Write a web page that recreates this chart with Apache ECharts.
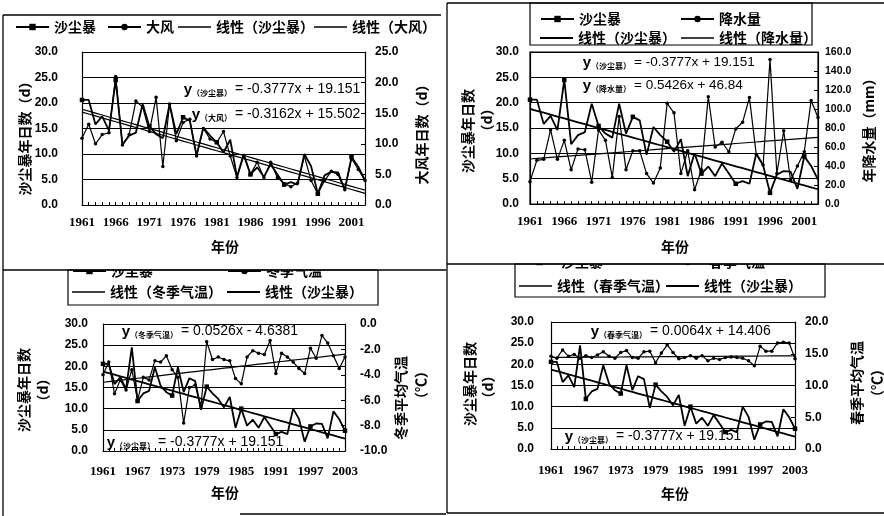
<!DOCTYPE html>
<html><head><meta charset="utf-8">
<script src="https://cdn.jsdelivr.net/npm/echarts@6/dist/echarts.min.js"></script>
<style>html,body{margin:0;padding:0;background:#fff}#c{width:884px;height:516px}</style>
</head><body><div id="c"></div>
<script>
const years = ['1961','1962','1963','1964','1965','1966','1967','1968','1969','1970','1971','1972','1973','1974','1975','1976','1977','1978','1979','1980','1981','1982','1983','1984','1985','1986','1987','1988','1989','1990','1991','1992','1993','1994','1995','1996','1997','1998','1999','2000','2001','2002','2003'];
// 沙尘暴年日数 (d)
const dustStorm = [20.6,20.6,15.8,17.4,14.6,24.5,11.8,13.6,14.2,19.8,15.4,13.9,13.1,19.8,13.9,17.2,16.5,9.7,15.2,13.6,12.3,10.3,12.8,5.5,10.0,6.0,7.4,5.5,8.0,6.0,4.0,4.5,4.0,10.0,7.6,2.2,5.8,6.5,6.4,3.0,9.4,7.5,4.8];
// 大风年日数 (d)
const strongWind = [10.9,13.2,10.0,11.5,11.8,21.0,9.8,11.5,17.0,16.0,12.0,17.6,6.3,16.5,10.5,13.5,14.0,8.0,12.5,10.8,10.2,12.0,8.0,4.5,8.0,5.0,7.0,4.5,7.0,4.5,3.5,3.0,3.6,8.0,4.0,1.8,4.0,5.5,5.0,2.5,7.6,5.8,4.0];
// 年降水量 (mm)
const precipitation = [23.5,46,47,78,47,67,36,58,57,23,78,67,28,92,36,56,56,32,22,38,106,96,32,56,15,36,113,60,65,55,79,86,112,52,41,152,32,77,25,40,55,109,91];
// 冬季平均气温 (℃)
const winterTemp = [-4.0,-3.0,-5.5,-4.4,-5.2,-3.6,-6.0,-4.2,-4.4,-2.9,-3.0,-2.5,-3.6,-4.2,-7.8,-5.0,-4.8,-6.5,-1.4,-2.8,-2.6,-2.8,-2.9,-4.3,-4.7,-2.6,-2.1,-2.3,-2.4,-1.3,-3.9,-2.3,-2.6,-3.0,-3.5,-3.9,-1.9,-2.7,-0.9,-1.5,-2.5,-3.5,-2.6];
// 春季平均气温 (℃)
const springTemp = [14.6,14.3,15.6,14.6,14.9,14.3,14.7,14.4,14.8,15.3,14.6,14.3,15.2,15.5,14.4,14.3,15.3,15.4,13.6,15.1,16.4,15.2,14.2,14.4,14.7,14.3,14.7,13.9,14.3,14.1,14.4,14.5,14.4,14.3,13.9,13.1,16.2,15.4,15.4,16.7,16.8,16.7,14.2];
// linear trend coefficients [slope, intercept], x = 1..43
const coefDust = [-0.3777, 19.151];
const coefWind = [-0.3162, 15.502];
const coefPrecip = [0.5426, 46.84];
const coefWinter = [0.0526, -4.6381];
const coefSpring = [0.0064, 14.406];

const CJK = '"Noto Sans CJK SC", sans-serif';
const NUM = '"Liberation Sans", Arial, sans-serif';
const SERIF = '"Liberation Serif", "Times New Roman", serif';

function trend(c) { return years.map((_, i) => +(c[0] * (i + 1) + c[1]).toFixed(4)); }

function xAx(gi, interval, margin) {
  return {type:'category', gridIndex:gi, data:years, boundaryGap:false,
    axisLine:{show:true, lineStyle:{color:'#000', width:1.2}},
    axisTick:{show:true, inside:true, length:3, interval:0, lineStyle:{color:'#000'}},
    axisLabel:{interval:interval, margin:margin, color:'#000', fontFamily:SERIF, fontWeight:'bold', fontSize:13},
    splitLine:{show:false}};
}
function yAx(gi, min, max, interval, pos, margin, fs, split) {
  return {type:'value', gridIndex:gi, min:min, max:max, interval:interval, position:pos,
    axisLine:{show:true, lineStyle:{color:'#000', width:1.2}},
    axisTick:{show:true, inside:true, length:4, lineStyle:{color:'#000'}},
    axisLabel:{margin:margin, color:'#000', fontFamily:NUM, fontWeight:'bold', fontSize:fs, formatter:v => v.toFixed(1)},
    splitLine:{show:split, lineStyle:{color:'#000', width:1}}};
}
function ser(name, xi, yi, data, kind) {
  const s = {name:name, type:'line', xAxisIndex:xi, yAxisIndex:yi, data:data, silent:true, z:3};
  if (kind === 'dust') {
    Object.assign(s, {symbol:'rect', symbolSize:4.5, lineStyle:{color:'#000', width:1.8}, itemStyle:{color:'#000'}});
  } else if (kind === 'other') {
    Object.assign(s, {symbol:'circle', symbolSize:3.5, lineStyle:{color:'#000', width:1.2}, itemStyle:{color:'#000'}});
  } else {
    Object.assign(s, {symbol:'none', showSymbol:false, lineStyle:{color:'#000', width:kind === 'trendBold' ? 1.8 : 1.2}, itemStyle:{color:'#000'}});
  }
  return s;
}
// kind: 0 = line with marker, 1 = thin trend line, 2 = bold trend line
function lg(name, left, cy, kind) {
  const item = kind ? {name:name, icon:'rect'} : {name:name};
  return {data:[item], left:left, top:cy - 8, itemWidth:33, itemHeight:kind === 2 ? 2.2 : (kind === 1 ? 1.3 : 8),
    itemGap:0, padding:0, selectedMode:false,
    textStyle:{fontFamily:CJK, fontWeight:'bold', fontSize:14, color:'#000'}};
}
function line(x1, y1, x2, y2, w) {
  return {type:'line', z:100, shape:{x1:x1, y1:y1, x2:x2, y2:y2}, style:{stroke:'#000', lineWidth:w || 1.3}};
}
function rectBox(x, y, w, h) {
  return {type:'rect', z:100, shape:{x:x, y:y, width:w, height:h}, style:{fill:null, stroke:'#000', lineWidth:1.2}};
}
function vtext(t, x, y) {
  return {type:'text', z:100, x:x, y:y, rotation:Math.PI / 2,
    style:{text:t, fontFamily:CJK, fontWeight:'bold', fontSize:14, fill:'#000', align:'center', verticalAlign:'middle'}};
}
function htext(t, x, y) {
  return {type:'text', z:100, x:x, y:y,
    style:{text:t, fontFamily:CJK, fontWeight:'bold', fontSize:14, fill:'#000', align:'center', verticalAlign:'middle'}};
}
function eq(sub, rest, xEq, y, fs) {
  return [
    {type:'text', z:100, x:xEq - 3, y:y,
      style:{text:'{y|y}{s|（' + sub + '）}', align:'right', verticalAlign:'middle', fill:'#000',
        rich:{y:{fontFamily:NUM, fontWeight:'bold', fontSize:15, lineHeight:16, verticalAlign:'bottom'},
              s:{fontFamily:CJK, fontWeight:'bold', fontSize:8, lineHeight:16, verticalAlign:'bottom'}}}},
    {type:'text', z:100, x:xEq, y:y,
      style:{text:rest, fontFamily:NUM, fontSize:fs || 14, fill:'#000', align:'left', verticalAlign:'middle'}}
  ];
}

const chart = echarts.init(document.getElementById('c'), null, {renderer:'canvas'});
const option = {
  animation:false,
  backgroundColor:'#fff',
  grid:[
    {left:82, top:52, width:283, height:153, outerBoundsMode:'none'},
    {left:530, top:52, width:288, height:152, show:true, borderColor:'#000', borderWidth:1.2, outerBoundsMode:'none'},
    {left:103, top:324, width:242, height:127, outerBoundsMode:'none'},
    {left:551, top:322, width:244, height:127, outerBoundsMode:'none'}
  ],
  xAxis:[xAx(0, 4, 11), xAx(1, 4, 11), xAx(2, 5, 14), xAx(3, 5, 15)],
  yAxis:[
    yAx(0, 0, 30, 5, 'left', 24, 12, true), yAx(0, 0, 25, 5, 'right', 10, 12, false),
    yAx(1, 0, 30, 5, 'left', 11, 12, true), yAx(1, 0, 160, 20, 'right', 7, 10.5, false),
    yAx(2, 0, 30, 5, 'left', 15, 12, true), yAx(2, -10, 0, 2, 'right', 15, 12, false),
    yAx(3, 0, 30, 5, 'left', 17, 12, true), yAx(3, 0, 20, 5, 'right', 10, 12, false)
  ],
  legend:[
    lg('沙尘暴', 15, 28, 0), lg('大风', 107, 28, 0), lg('线性（沙尘暴）', 178, 28, 1), lg('线性（大风）', 314, 28, 1),
    lg('沙尘暴', 540, 20, 0), lg('降水量', 680, 20, 0), lg('线性（沙尘暴）', 540, 39, 2), lg('线性（降水量）', 681, 39, 1),
    lg('沙尘暴', 72, 272, 0), lg('冬季气温', 227, 272, 0), lg('线性（冬季气温）', 72, 293, 1), lg('线性（沙尘暴）', 227, 293, 2),
    lg('沙尘暴', 522, 263, 0), lg('春季气温', 670, 263, 0), lg('线性（春季气温）', 519, 287, 1), lg('线性（沙尘暴）', 666, 287, 2)
  ],
  series:[
    ser('沙尘暴', 0, 0, dustStorm, 'dust'),
    ser('大风', 0, 1, strongWind, 'other'),
    ser('线性（沙尘暴）', 0, 0, trend(coefDust), 'trend'),
    ser('线性（大风）', 0, 1, trend(coefWind), 'trend'),

    ser('沙尘暴', 1, 2, dustStorm, 'dust'),
    ser('降水量', 1, 3, precipitation, 'other'),
    ser('线性（沙尘暴）', 1, 2, trend(coefDust), 'trendBold'),
    ser('线性（降水量）', 1, 3, trend(coefPrecip), 'trend'),

    ser('沙尘暴', 2, 4, dustStorm, 'dust'),
    ser('冬季气温', 2, 5, winterTemp, 'other'),
    ser('线性（冬季气温）', 2, 5, trend(coefWinter), 'trend'),
    ser('线性（沙尘暴）', 2, 4, trend(coefDust), 'trendBold'),

    ser('沙尘暴', 3, 6, dustStorm, 'dust'),
    ser('春季气温', 3, 7, springTemp, 'other'),
    ser('线性（春季气温）', 3, 7, trend(coefSpring), 'trend'),
    ser('线性（沙尘暴）', 3, 6, trend(coefDust), 'trendBold')
  ],
  graphic:[
    // clip the cut-off legend rows of the lower panels
    {type:'rect', z:99, shape:{x:0, y:255, width:446, height:15}, style:{fill:'#fff'}},
    {type:'rect', z:99, shape:{x:448, y:254, width:436, height:10}, style:{fill:'#fff'}},
    // panel frames
    line(3, 15, 3, 516), line(3, 15, 441, 15),
    line(447, 3, 447, 513), line(447, 3, 884, 3),
    line(3, 270, 446, 270), line(447, 264, 884, 264), line(447, 513, 884, 513), line(240, 514, 446, 514),
    // legend boxes
    rectBox(530, 3, 282, 42), rectBox(68, 270, 310, 35), rectBox(515, 264, 310, 33),
    // axis names
    vtext('沙尘暴年日数（d）', 25, 135), vtext('大风年日数（d）', 422, 131),
    vtext('沙尘暴年日数', 468, 131), vtext('（d）', 487, 120), vtext('年降水量（mm）', 869, 127),
    vtext('沙尘暴年日数', 24, 390), vtext('（d）', 43, 390), vtext('冬季平均气温', 401, 398), vtext('（℃）', 421, 385),
    vtext('沙尘暴年日数', 470, 384), vtext('（d）', 488, 387), vtext('春季平均气温', 857, 383), vtext('（℃）', 877, 383),
    htext('年份', 225, 247), htext('年份', 675, 247), htext('年份', 225, 493), htext('年份', 675, 494)
  ].concat(
    eq('沙尘暴', '= -0.3777x + 19.151', 235, 89),
    eq('大风', '= -0.3162x + 15.502', 235, 114),
    eq('沙尘暴', '= -0.3777x + 19.151', 634, 62, 13.5),
    eq('降水量', '= 0.5426x + 46.84', 634, 85, 13.5),
    eq('冬季气温', '= 0.0526x - 4.6381', 181, 331),
    eq('沙尘暴', '= -0.3777x + 19.151', 158, 442),
    eq('春季气温', '= 0.0064x + 14.406', 650, 331),
    eq('沙尘暴', '= -0.3777x + 19.151', 616, 436)
  )
};
chart.setOption(option);
</script>
</body></html>
